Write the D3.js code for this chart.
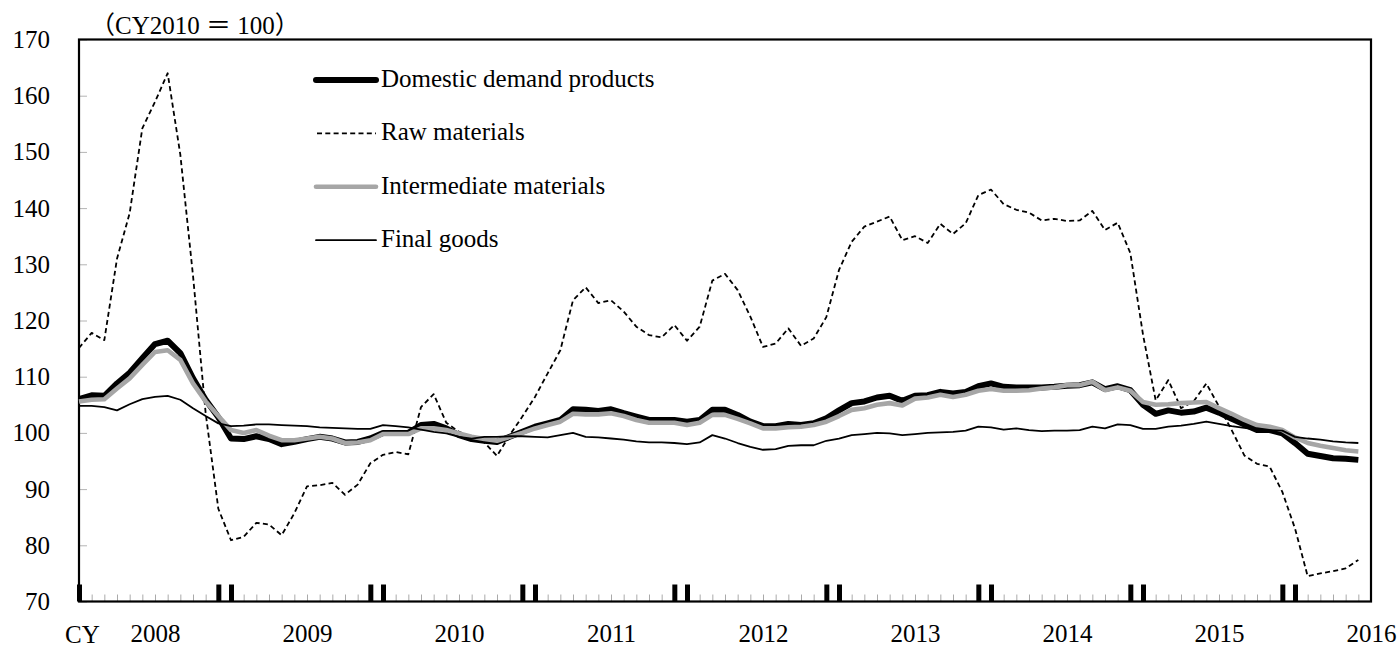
<!DOCTYPE html>
<html>
<head>
<meta charset="utf-8">
<script src="https://cdn.jsdelivr.net/npm/d3@7"></script>
<style>
  body { margin: 0; background: #fff; }
  text { font-family: "Liberation Serif", "Times New Roman", "Noto Sans CJK JP", serif; fill: #000; }
</style>
</head>
<body>
<script>
// monthly, Jan 2008 .. Jun 2016
const years = [2008, 2009, 2010, 2011, 2012, 2013, 2014, 2015, 2016];
const months = years.flatMap(y => d3.range(1, 13).map(m => y + '-' + String(m).padStart(2, '0'))).slice(0, 102);

const domestic = [
  106.0, 106.7, 106.6, 108.8, 110.7, 113.3, 115.8, 116.4, 114.2, 109.7, 105.9, 102.8,
  99.0, 98.9, 99.4, 98.9, 98.0, 98.4, 98.9, 99.3, 99.0, 98.3, 98.4, 99.0,
  100.0, 100.0, 100.0, 101.4, 101.6, 100.8, 99.6, 98.9, 98.6, 98.4, 99.3, 100.2,
  101.1, 101.7, 102.3, 104.2, 104.1, 103.9, 104.2, 103.5, 102.9, 102.3, 102.3, 102.3,
  102.0, 102.3, 104.1, 104.1, 103.2, 102.0, 101.2, 101.2, 101.6, 101.4, 101.7, 102.6,
  104.0, 105.3, 105.6, 106.3, 106.6, 105.7, 106.6, 106.7, 107.3, 107.0, 107.3, 108.3,
  108.8, 108.2, 108.1, 108.1, 108.1, 108.2, 108.4, 108.5, 109.0, 107.8, 108.3, 107.6,
  105.0, 103.4, 104.0, 103.6, 103.8, 104.5, 103.6, 102.5, 101.5, 100.5, 100.5, 99.9,
  98.2, 96.3, 95.9, 95.5, 95.4, 95.2
];
const raw = [
  115.1, 117.8, 116.5, 131.0, 139.1, 154.2, 158.9, 164.0, 149.5, 128.0, 103.5, 86.5,
  80.9, 81.5, 84.0, 83.7, 81.8, 85.7, 90.5, 90.7, 91.1, 89.0, 90.8, 94.6,
  96.1, 96.6, 96.2, 104.6, 106.9, 101.8, 100.2, 99.3, 98.3, 95.9, 99.6, 102.9,
  106.4, 110.6, 114.7, 123.6, 125.9, 123.1, 123.6, 121.6, 118.9, 117.4, 117.0, 119.2,
  116.4, 118.9, 127.1, 128.3, 125.4, 120.7, 115.3, 115.9, 118.6, 115.5, 116.8, 120.6,
  129.0, 134.0, 136.7, 137.6, 138.5, 134.3, 135.0, 133.8, 137.2, 135.4, 137.3, 142.3,
  143.3, 140.7, 139.7, 139.2, 137.8, 138.1, 137.7, 137.8, 139.5, 136.1, 137.4, 132.0,
  117.5, 105.8, 109.4, 104.4, 105.6, 108.8, 104.7, 100.5, 96.0, 94.5, 94.0, 89.5,
  83.0, 74.5, 75.0, 75.4, 75.9, 77.4
];
const intermediate = [
  105.6, 105.9, 106.0, 107.9, 109.7, 112.1, 114.4, 114.7, 113.0, 108.8, 105.6, 103.0,
  100.5, 100.0, 100.5, 99.5, 98.7, 98.7, 99.0, 99.3, 99.0, 98.2, 98.3, 98.7,
  99.8, 99.8, 99.8, 100.8, 100.8, 100.5, 99.9, 99.3, 98.9, 98.6, 99.3, 100.0,
  100.8, 101.4, 102.0, 103.4, 103.3, 103.3, 103.5, 103.0, 102.3, 101.8, 101.8, 101.8,
  101.4, 101.8, 103.2, 103.2, 102.5, 101.7, 100.8, 100.8, 101.0, 101.1, 101.4, 102.0,
  103.0, 104.1, 104.4, 105.0, 105.3, 104.9, 106.1, 106.3, 106.8, 106.4, 106.8, 107.5,
  107.8, 107.5, 107.5, 107.6, 107.9, 108.1, 108.5, 108.5, 109.1, 107.6, 108.1, 107.5,
  105.5, 105.0, 105.1, 105.3, 105.4, 105.5, 104.4, 103.4, 102.3, 101.4, 101.1, 100.5,
  99.2, 98.2, 97.7, 97.3, 96.9, 96.7
];
const finalGoods = [
  104.8, 104.8, 104.6, 104.0, 105.1, 106.0, 106.4, 106.6, 105.9, 104.4, 103.0, 101.7,
  101.2, 101.3, 101.5, 101.5, 101.4, 101.3, 101.2, 101.0, 100.9, 100.8, 100.7, 100.7,
  101.4, 101.2, 101.0, 100.6, 100.2, 99.9, 99.3, 99.0, 99.3, 99.3, 99.4, 99.4,
  99.3, 99.2, 99.6, 100.0, 99.3, 99.2, 99.0, 98.8, 98.5, 98.3, 98.3, 98.2,
  98.0, 98.3, 99.6, 99.0, 98.2, 97.5, 97.0, 97.1, 97.7, 97.8, 97.8, 98.6,
  99.0, 99.6, 99.8, 100.0, 99.9, 99.6, 99.8, 100.0, 100.1, 100.2, 100.4, 101.1,
  101.0, 100.6, 100.8, 100.5, 100.3, 100.4, 100.4, 100.5, 101.1, 100.8, 101.5, 101.4,
  100.7, 100.7, 101.1, 101.3, 101.6, 102.0, 101.6, 101.2, 100.9, 100.6, 100.5, 100.4,
  99.3, 99.0, 98.8, 98.5, 98.3, 98.2
];

const seriesNames = ['Domestic demand products', 'Raw materials', 'Intermediate materials', 'Final goods'];
const yTicks = [70, 80, 90, 100, 110, 120, 130, 140, 150, 160, 170];

const width = 1400;
const height = 648;
const plotLeft = 79, plotRight = 1371, plotTop = 39.5, plotBottom = 601.5;

const x = d3.scaleLinear()
  .domain([0, months.length])
  .range([plotLeft, plotRight]);
const y = d3.scaleLinear()
  .domain([70, 170])
  .range([plotBottom, plotTop]);

const svg = d3.select('body')
  .append('svg')
  .attr('width', width)
  .attr('height', height);

// y axis, small grey ticks pointing inward
const yAxis = svg.append('g')
  .attr('transform', `translate(${plotLeft},0)`)
  .call(d3.axisLeft(y).tickValues(yTicks).tickSize(-8).tickPadding(29));
yAxis.select('.domain').remove();
yAxis.selectAll('line').attr('stroke', '#b4b4b4');
yAxis.selectAll('text').style('font-size', '25px');

// x axis: a grey tick on every month
const xMinor = svg.append('g')
  .attr('transform', `translate(0,${plotBottom})`)
  .call(d3.axisBottom(x).tickValues(d3.range(1, months.length + 1)).tickSize(-7).tickFormat(''));
xMinor.select('.domain').remove();
xMinor.selectAll('line').attr('stroke', '#aaa');

// heavy marks on December and January of each year
const breaks = months.map((m, i) => i).filter(i => i === 0 || /-(12|01)$/.test(months[i]));
const xMajor = svg.append('g')
  .attr('transform', `translate(0,${plotBottom})`)
  .call(d3.axisBottom(x).tickValues(breaks).tickSize(-17).tickFormat(''));
xMajor.select('.domain').remove();
xMajor.selectAll('line').attr('stroke', '#000').attr('stroke-width', 5);

// year labels, placed at July
const xLabels = svg.append('g')
  .attr('transform', `translate(0,${plotBottom})`)
  .call(d3.axisBottom(x)
    .tickValues(years.map((yr, i) => i * 12 + 6))
    .tickSize(0).tickPadding(23)
    .tickFormat((d, i) => years[i]));
xLabels.select('.domain').remove();
xLabels.selectAll('text').style('font-size', '25px');

svg.append('text')
  .attr('x', 65).attr('y', 643)
  .style('font-size', '25px')
  .text('CY');

svg.append('text')
  .attr('x', 90).attr('y', 34)
  .style('font-size', '25px')
  .text('（CY2010 ＝ 100）');

// frame
svg.append('rect')
  .attr('x', plotLeft).attr('y', plotTop)
  .attr('width', plotRight - plotLeft).attr('height', plotBottom - plotTop)
  .attr('fill', 'none').attr('stroke', '#000').attr('stroke-width', 2.2);

const styles = [
  { data: domestic, color: '#000', w: 6, dash: null },
  { data: raw, color: '#000', w: 1.8, dash: '5,3.3' },
  { data: intermediate, color: '#a6a6a6', w: 4.6, dash: null },
  { data: finalGoods, color: '#000', w: 1.8, dash: null }
];

const line = d3.line()
  .x((d, i) => x(i))
  .y(d => y(d));

svg.selectAll('path.series')
  .data(styles)
  .enter()
  .append('path')
  .attr('class', 'series')
  .attr('d', s => line(s.data))
  .attr('fill', 'none')
  .attr('stroke', s => s.color)
  .attr('stroke-width', s => s.w)
  .attr('stroke-dasharray', s => s.dash)
  .attr('stroke-linejoin', 'round');

// legend
const legend = svg.selectAll('g.legend')
  .data(styles)
  .enter()
  .append('g')
  .attr('class', 'legend')
  .attr('transform', (d, i) => `translate(0,${80 + i * 53.4})`);

legend.append('line')
  .attr('x1', (d, i) => i === 1 ? 317 : 316)
  .attr('x2', 376)
  .attr('stroke', d => d.color)
  .attr('stroke-width', d => d.w)
  .attr('stroke-dasharray', d => d.dash)
  .attr('stroke-linecap', d => d.dash ? 'butt' : 'round');

legend.append('text')
  .attr('x', 381)
  .attr('y', 7)
  .style('font-size', '25px')
  .text((d, i) => seriesNames[i]);
</script>
</body>
</html>
